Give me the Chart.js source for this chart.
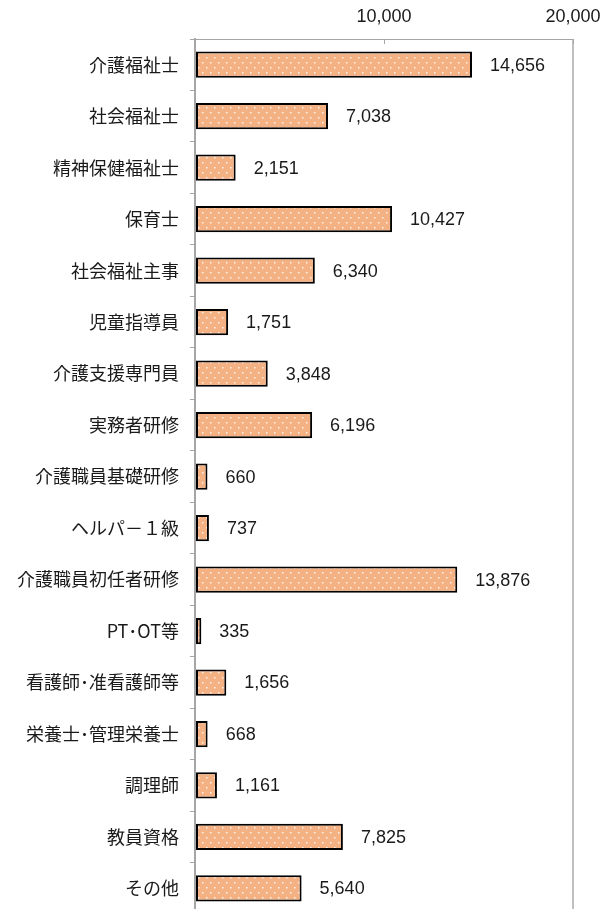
<!DOCTYPE html>
<html lang="ja">
<head>
<meta charset="utf-8">
<title>資格別人数</title>
<script src="https://cdn.jsdelivr.net/npm/chart.js@4/dist/chart.umd.min.js"></script>
<style>
    html, body { margin: 0; padding: 0; background: #fff; overflow: hidden; }
    canvas { display: block; }
</style>
</head>
<body>
<canvas id="qual-chart" width="614" height="936"></canvas>
<script>
const categories = [
    '介護福祉士', '社会福祉士', '精神保健福祉士', '保育士', '社会福祉主事',
    '児童指導員', '介護支援専門員', '実務者研修', '介護職員基礎研修', 'ヘルパ－１級',
    '介護職員初任者研修', 'PT･OT等', '看護師･准看護師等', '栄養士･管理栄養士', '調理師',
    '教員資格', 'その他'
];
const counts = [
    14656, 7038, 2151, 10427, 6340,
    1751, 3848, 6196, 660, 737,
    13876, 335, 1656, 668, 1161,
    7825, 5640
];
const tickLabels = [10000, 20000];

const axisGray = '#a6a6a6';
const textColor = '#1a1a1a';
const numFont = '"Liberation Sans", Arial, sans-serif';
const jpFont = '"Noto Sans CJK JP", "Noto Sans", sans-serif';

// 点描パターン (オレンジ地に白い点)
function makeDotPattern(ctx) {
    const tile = document.createElement('canvas');
    tile.width = 8;
    tile.height = 10;
    const t = tile.getContext('2d');
    t.fillStyle = '#f4b183';
    t.fillRect(0, 0, 8, 10);
    t.fillStyle = 'rgba(255,255,255,0.85)';
    t.fillRect(2, 2, 1.5, 1.5);
    t.fillRect(6, 7, 1.5, 1.5);
    return ctx.createPattern(tile, 'repeat');
}

// 上軸の内向き目盛り
const innerTicks = {
    id: 'innerTicks',
    afterDraw(chart) {
        const ctx = chart.ctx;
        const x = chart.scales.x;
        const top = chart.chartArea.top;
        ctx.save();
        ctx.strokeStyle = axisGray;
        ctx.lineWidth = 1;
        tickLabels.forEach(v => {
            const px = Math.round(x.getPixelForValue(v)) + 0.5;
            ctx.beginPath();
            ctx.moveTo(px, top);
            ctx.lineTo(px, top + 5);
            ctx.stroke();
        });
        ctx.restore();
    }
};

// バーの右に値を表示
const valueLabels = {
    id: 'valueLabels',
    afterDatasetsDraw(chart) {
        const ctx = chart.ctx;
        const meta = chart.getDatasetMeta(0);
        ctx.save();
        ctx.font = '18px ' + numFont;
        ctx.fillStyle = textColor;
        ctx.textAlign = 'left';
        ctx.textBaseline = 'middle';
        meta.data.forEach((bar, i) => {
            ctx.fillText(counts[i].toLocaleString('en-US'), bar.x + 18, bar.y + 1);
        });
        ctx.restore();
    }
};

function renderChart() {
    const canvas = document.getElementById('qual-chart');
    const ctx = canvas.getContext('2d');

    new Chart(ctx, {
        type: 'bar',
        data: {
            labels: categories,
            datasets: [{
                data: counts,
                backgroundColor: makeDotPattern(ctx),
                borderColor: '#000',
                borderWidth: 2,
                borderSkipped: false,
                categoryPercentage: 1,
                barPercentage: 0.51
            }]
        },
        options: {
            indexAxis: 'y',
            responsive: false,
            animation: false,
            devicePixelRatio: 1,
            layout: { padding: { right: 41, bottom: 1 } },
            plugins: {
                legend: { display: false },
                tooltip: { enabled: false }
            },
            scales: {
                x: {
                    position: 'top',
                    min: 0,
                    max: 20000,
                    afterFit: s => { s.height = 39; },
                    ticks: {
                        stepSize: 10000,
                        padding: 11,
                        maxRotation: 0,
                        color: textColor,
                        font: { family: numFont, size: 18 },
                        callback: v => tickLabels.includes(v) ? v.toLocaleString('en-US') : ''
                    },
                    grid: {
                        drawTicks: false,
                        color: c => (c.tick && c.tick.value === 20000) ? '#bfbfbf' : 'transparent',
                        lineWidth: 2
                    },
                    border: { color: axisGray, width: 1 }
                },
                y: {
                    afterFit: s => { s.width = 195; },
                    ticks: {
                        padding: 11,
                        color: textColor,
                        font: { family: jpFont, size: 18 }
                    },
                    grid: {
                        offset: true,
                        drawOnChartArea: false,
                        drawTicks: true,
                        tickLength: 5,
                        color: axisGray
                    },
                    border: { color: axisGray, width: 2 }
                }
            }
        },
        plugins: [innerTicks, valueLabels]
    });
}

document.addEventListener('DOMContentLoaded', renderChart);
</script>
</body>
</html>
